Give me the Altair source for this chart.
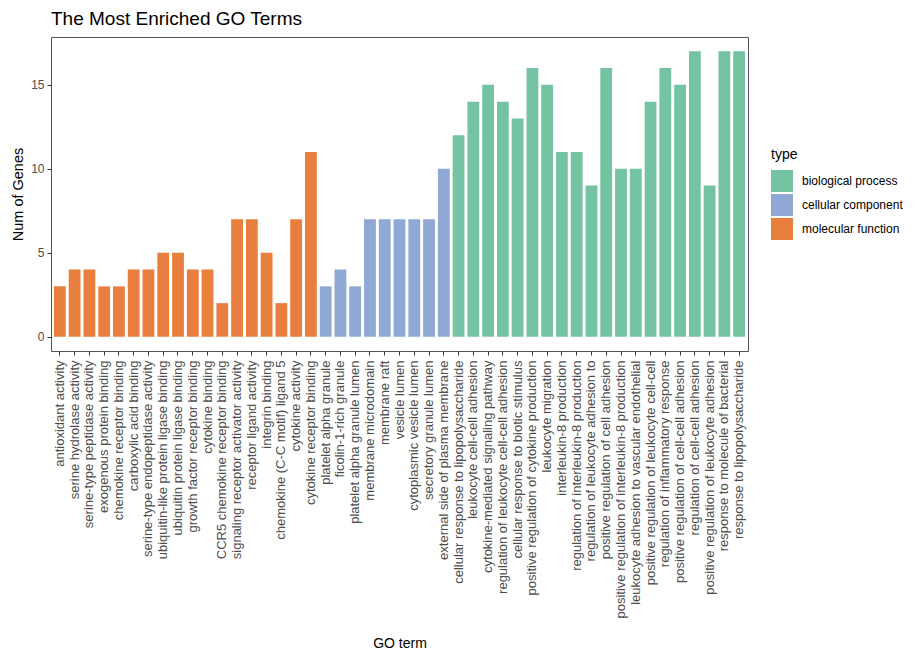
import altair as alt
import pandas as pd

# GO terms and gene counts, grouped by ontology
mf_terms = [
    "antioxidant activity", "serine hydrolase activity", "serine-type peptidase activity",
    "exogenous protein binding", "chemokine receptor binding", "carboxylic acid binding",
    "serine-type endopeptidase activity", "ubiquitin-like protein ligase binding",
    "ubiquitin protein ligase binding", "growth factor receptor binding", "cytokine binding",
    "CCR5 chemokine receptor binding", "signaling receptor activator activity",
    "receptor ligand activity", "integrin binding", "chemokine (C-C motif) ligand 5",
    "cytokine activity", "cytokine receptor binding",
]
mf_counts = [3, 4, 4, 3, 3, 4, 4, 5, 5, 4, 4, 2, 7, 7, 5, 2, 7, 11]

cc_terms = [
    "platelet alpha granule", "ficolin-1-rich granule", "platelet alpha granule lumen",
    "membrane microdomain", "membrane raft", "vesicle lumen", "cytoplasmic vesicle lumen",
    "secretory granule lumen", "external side of plasma membrane",
]
cc_counts = [3, 4, 3, 7, 7, 7, 7, 7, 10]

bp_terms = [
    "cellular response to lipopolysaccharide", "leukocyte cell-cell adhesion",
    "cytokine-mediated signaling pathway", "regulation of leukocyte cell-cell adhesion",
    "cellular response to biotic stimulus", "positive regulation of cytokine production",
    "leukocyte migration", "interleukin-8 production", "regulation of interleukin-8 production",
    "regulation of leukocyte adhesion to", "positive regulation of cell adhesion",
    "positive regulation of interleukin-8 production", "leukocyte adhesion to vascular endothelial",
    "positive regulation of leukocyte cell-cell", "regulation of inflammatory response",
    "positive regulation of cell-cell adhesion", "regulation of cell-cell adhesion",
    "positive regulation of leukocyte adhesion", "response to molecule of bacterial",
    "response to lipopolysaccharide",
]
bp_counts = [12, 14, 15, 14, 13, 16, 15, 11, 11, 9, 16, 10, 10, 14, 16, 15, 17, 9, 17, 17]

type_names = ["biological process", "cellular component", "molecular function"]
type_colors = ["#74C4A3", "#8FA8D4", "#E97F3E"]

df = pd.DataFrame({
    "term": mf_terms + cc_terms + bp_terms,
    "count": mf_counts + cc_counts + bp_counts,
    "type": ["molecular function"] * len(mf_terms)
            + ["cellular component"] * len(cc_terms)
            + ["biological process"] * len(bp_terms),
})
order = list(df["term"])

font = "Liberation Sans"

chart = (
    alt.Chart(df)
    .mark_bar()
    .encode(
        x=alt.X(
            "term:N",
            sort=order,
            title="GO term",
            scale=alt.Scale(paddingInner=0.2, paddingOuter=0.2),
            axis=alt.Axis(
                labelAngle=-90, labelLimit=500, labelFontSize=13, labelColor="#4D4D4D",
                labelPadding=5, tickSize=4, tickColor="#333333", domain=False,
                titleFontSize=14, titleFontWeight="normal", titleColor="#000000",
                titleY=292, titleBaseline="middle",
            ),
        ),
        y=alt.Y(
            "count:Q",
            title="Num of Genes",
            scale=alt.Scale(domain=[-0.85, 17.85], nice=False, zero=False),
            axis=alt.Axis(
                values=[0, 5, 10, 15], grid=False, labelFontSize=12, labelColor="#4D4D4D",
                labelPadding=3, tickSize=4, tickColor="#333333", domain=False,
                titleFontSize=14.5, titleFontWeight="normal", titleColor="#000000",
                titleX=-33, titleBaseline="middle",
            ),
        ),
        color=alt.Color(
            "type:N",
            title="type",
            scale=alt.Scale(domain=type_names, range=type_colors),
            legend=alt.Legend(
                orient="none", legendX=720, legendY=111, symbolType="square",
                symbolSize=484, symbolStrokeWidth=0, symbolOpacity=1,
                titleFontSize=14, titleFontWeight="normal", titleColor="#000000",
                titlePadding=8, labelFontSize=12, labelColor="#000000",
                labelOffset=9, rowPadding=2, padding=0,
            ),
        ),
    )
    .properties(
        width=697,
        height=314,
        title=alt.TitleParams(
            "The Most Enriched GO Terms", anchor="start", frame="group", fontSize=19,
            fontWeight="normal", color="#000000", offset=8, font=font,
        ),
        autosize=alt.AutoSizeParams(type="none"),
        padding={"left": 51, "top": 37, "right": 171, "bottom": 299},
    )
    .configure(font=font)
    .configure_view(stroke="#555555", strokeWidth=1)
)

chart.save("out.html", embed_options={"renderer": "svg", "actions": False})
